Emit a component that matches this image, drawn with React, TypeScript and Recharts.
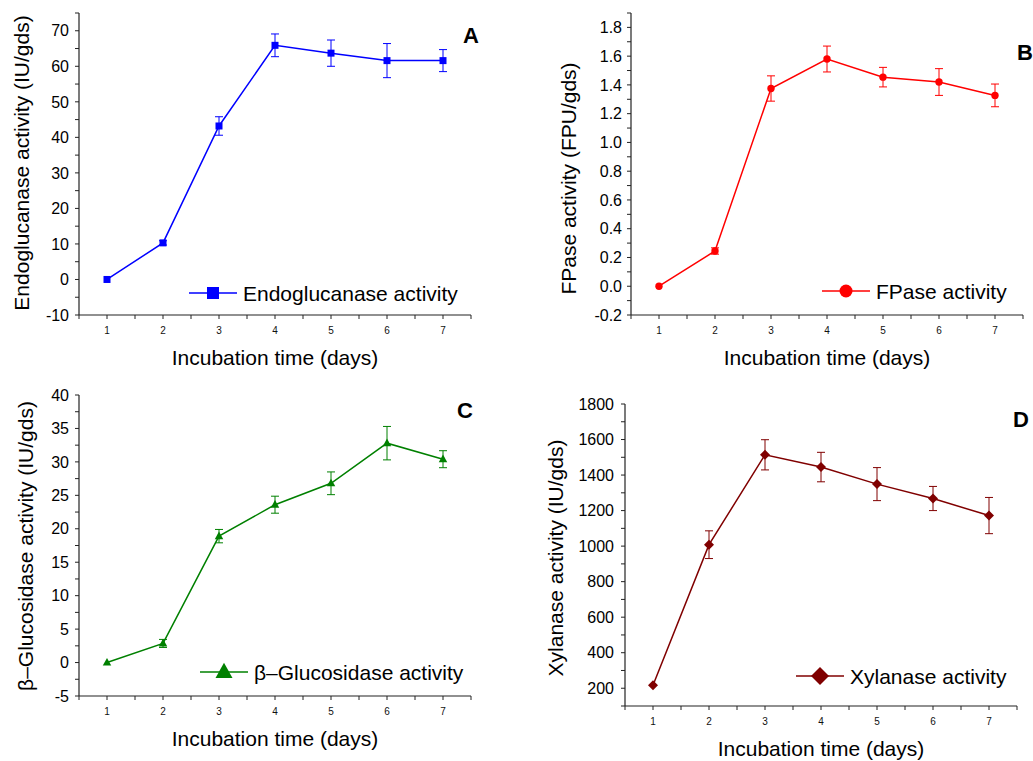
import React from 'react';
import { LineChart, Line, XAxis, YAxis, ErrorBar, Legend, Label } from 'recharts';

// ---------- data ----------
const days = [1, 2, 3, 4, 5, 6, 7];
const dayTicks = [0.5, 1, 1.5, 2, 2.5, 3, 3.5, 4, 4.5, 5, 5.5, 6, 6.5, 7, 7.5];
const dayLabels = [1, 2, 3, 4, 5, 6, 7];

const endoValues = [0, 10.3, 43.2, 65.9, 63.7, 61.6, 61.6];
const endoErrors = [0, 0.6, 2.6, 3.2, 3.7, 4.8, 3.1];
const endoTicks = [-10, -5, 0, 5, 10, 15, 20, 25, 30, 35, 40, 45, 50, 55, 60, 65, 70, 75];
const endoTickLabels = [-10, 0, 10, 20, 30, 40, 50, 60, 70];

const fpaseValues = [0.0, 0.245, 1.375, 1.58, 1.454, 1.42, 1.327];
const fpaseErrors = [0, 0.022, 0.088, 0.09, 0.068, 0.093, 0.079];
const fpaseTicks = [-0.2, -0.1, 0, 0.1, 0.2, 0.3, 0.4, 0.5, 0.6, 0.7, 0.8, 0.9, 1.0, 1.1, 1.2, 1.3, 1.4, 1.5, 1.6, 1.7, 1.8, 1.9];
const fpaseTickLabels = [-0.2, 0, 0.2, 0.4, 0.6, 0.8, 1.0, 1.2, 1.4, 1.6, 1.8];

const glucValues = [0.0, 2.86, 18.9, 23.6, 26.8, 32.8, 30.4];
const glucErrors = [0, 0.6, 1.0, 1.27, 1.7, 2.5, 1.27];
const glucTicks = [-5, -2.5, 0, 2.5, 5, 7.5, 10, 12.5, 15, 17.5, 20, 22.5, 25, 27.5, 30, 32.5, 35, 37.5, 40];
const glucTickLabels = [-5, 0, 5, 10, 15, 20, 25, 30, 35, 40];

const xylValues = [217, 1008, 1514, 1445, 1349, 1268, 1172];
const xylErrors = [0, 78, 85, 83, 93, 68, 102];
const xylTicks = [100, 200, 300, 400, 500, 600, 700, 800, 900, 1000, 1100, 1200, 1300, 1400, 1500, 1600, 1700, 1800];
const xylTickLabels = [200, 400, 600, 800, 1000, 1200, 1400, 1600, 1800];

const FONT = '"Liberation Sans", Arial, Helvetica, sans-serif';

type Shape = 'square' | 'circle' | 'triangle' | 'diamond';

function marker(shape: Shape, cx: number, cy: number, s: number, color: string) {
  if (shape === 'square') {
    return <rect x={cx - s / 2} y={cy - s / 2} width={s} height={s} fill={color} />;
  }
  if (shape === 'circle') {
    return <circle cx={cx} cy={cy} r={s / 2} fill={color} />;
  }
  if (shape === 'triangle') {
    const h = s * 0.9;
    return (
      <polygon
        points={`${cx},${cy - h * 0.6} ${cx - s / 2},${cy + h * 0.4} ${cx + s / 2},${cy + h * 0.4}`}
        fill={color}
      />
    );
  }
  return (
    <polygon
      points={`${cx},${cy - s / 2} ${cx + s / 2},${cy} ${cx},${cy + s / 2} ${cx - s / 2},${cy}`}
      fill={color}
    />
  );
}

interface Panel {
  key: string;
  letter: string;
  name: string;
  yTitle: string;
  values: number[];
  errors: number[];
  yTicks: number[];
  yLabels: number[];
  decimals: number;
  yDomain: [number, number];
  color: string;
  shape: Shape;
  dotSize: number;
  legendSize: number;
  left: number;
  top: number;
  w: number;
  h: number;
  margin: { top: number; right: number; bottom: number; left: number };
  yWidth: number;
  xHeight: number;
  yTickMargin: number;
  yTitlePos: { x: number; y: number };
  xTitleOffset: number;
  legendPos: { left: number; top: number };
  letterPos: { x: number; y: number };
}

const panels: Panel[] = [
  {
    key: 'A', letter: 'A', name: 'Endoglucanase activity', yTitle: 'Endoglucanase activity (IU/gds)',
    values: endoValues, errors: endoErrors, yTicks: endoTicks, yLabels: endoTickLabels, decimals: 0,
    yDomain: [-10, 75], color: '#0000FF', shape: 'square', dotSize: 7, legendSize: 12,
    left: 0, top: 0, w: 500, h: 380, margin: { top: 13, right: 29, bottom: 0, left: 0 },
    yWidth: 79, xHeight: 65, yTickMargin: 6, yTitlePos: { x: 28.5, y: 163 }, xTitleOffset: 15,
    legendPos: { left: 189, top: 281 }, letterPos: { x: 463, y: 42.5 },
  },
  {
    key: 'B', letter: 'B', name: 'FPase activity', yTitle: 'FPase activity (FPU/gds)',
    values: fpaseValues, errors: fpaseErrors, yTicks: fpaseTicks, yLabels: fpaseTickLabels, decimals: 1,
    yDomain: [-0.2, 1.9], color: '#FF0000', shape: 'circle', dotSize: 7.4, legendSize: 13,
    left: 520, top: 0, w: 513, h: 380, margin: { top: 13, right: 10, bottom: 0, left: 0 },
    yWidth: 111, xHeight: 65, yTickMargin: 5, yTitlePos: { x: 56, y: 178.5 }, xTitleOffset: 15.5,
    legendPos: { left: 302, top: 279 }, letterPos: { x: 497, y: 59.5 },
  },
  {
    key: 'C', letter: 'C', name: '\u03B2\u2013Glucosidase activity', yTitle: '\u03B2\u2013Glucosidase activity (IU/gds)',
    values: glucValues, errors: glucErrors, yTicks: glucTicks, yLabels: glucTickLabels, decimals: 0,
    yDomain: [-5, 40], color: '#008000', shape: 'triangle', dotSize: 8.5, legendSize: 17,
    left: 0, top: 380, w: 500, h: 381, margin: { top: 15, right: 29, bottom: 0, left: 0 },
    yWidth: 79, xHeight: 65, yTickMargin: 6, yTitlePos: { x: 33, y: 166 }, xTitleOffset: 15.3,
    legendPos: { left: 200, top: 280 }, letterPos: { x: 457, y: 38 },
  },
  {
    key: 'D', letter: 'D', name: 'Xylanase activity', yTitle: 'Xylanase activity (IU/gds)',
    values: xylValues, errors: xylErrors, yTicks: xylTicks, yLabels: xylTickLabels, decimals: 0,
    yDomain: [100, 1800], color: '#800000', shape: 'diamond', dotSize: 10, legendSize: 18,
    left: 520, top: 380, w: 513, h: 381, margin: { top: 24, right: 16, bottom: 0, left: 0 },
    yWidth: 105, xHeight: 55, yTickMargin: 7, yTitlePos: { x: 42.7, y: 178 }, xTitleOffset: 5,
    legendPos: { left: 276, top: 284 }, letterPos: { x: 493, y: 46.5 },
  },
];

const AXIS = '#222';

function PanelChart({ p }: { p: Panel }) {
  const data = days.map((d, i) => ({ day: d, value: p.values[i], err: p.errors[i] }));
  const fmtY = (v: number) => {
    const hit = p.yLabels.some((l) => Math.abs(l - v) < 1e-9);
    if (!hit) return '';
    return p.decimals > 0 ? (Math.abs(v) < 1e-9 ? 0 : v).toFixed(p.decimals) : String(Math.round(v));
  };
  const fmtX = (v: number) => (dayLabels.includes(v) ? String(v) : '');

  const renderDot = (props: any) => {
    const { cx, cy, index } = props;
    if (cx == null || cy == null) return <g key={`dot-${index}`} />;
    return <g key={`dot-${index}`}>{marker(p.shape, cx, cy, p.dotSize, p.color)}</g>;
  };

  const legendContent = (props: any) => {
    const item = props.payload && props.payload[0];
    const label = item ? item.value : p.name;
    return (
      <div style={{ display: 'flex', alignItems: 'center', height: 24, whiteSpace: 'nowrap', fontFamily: FONT }}>
        <svg width={48} height={24} style={{ display: 'block' }}>
          <line x1={0} y1={12} x2={48} y2={12} stroke={p.color} strokeWidth={1.5} />
          {marker(p.shape, 24, 12, p.legendSize, p.color)}
        </svg>
        <span style={{ marginLeft: 6, fontSize: 21, lineHeight: 1, color: '#000' }}>{label}</span>
      </div>
    );
  };

  const yTitleContent = () => (
    <text
      x={p.yTitlePos.x}
      y={p.yTitlePos.y}
      transform={`rotate(-90 ${p.yTitlePos.x} ${p.yTitlePos.y})`}
      textAnchor="middle"
      fontSize={21}
      fill="#000"
      fontFamily={FONT}
    >
      {p.yTitle}
    </text>
  );

  return (
    <div style={{ position: 'absolute', left: p.left, top: p.top, width: p.w, height: p.h }}>
      <LineChart width={p.w} height={p.h} data={data} margin={p.margin} style={{ fontFamily: FONT }}>
        <XAxis
          dataKey="day"
          type="number"
          domain={[0.5, 7.5]}
          ticks={dayTicks}
          interval={0}
          tickFormatter={fmtX}
          tickSize={4}
          tickMargin={8}
          height={p.xHeight}
          stroke={AXIS}
          axisLine={{ stroke: AXIS, strokeWidth: 1.2 }}
          tickLine={{ stroke: AXIS }}
          tick={{ fill: '#111', fontSize: 10, fontFamily: FONT }}
        >
          <Label
            value="Incubation time (days)"
            position="insideBottom"
            offset={p.xTitleOffset}
            style={{ fontSize: 21, fill: '#000', fontFamily: FONT }}
          />
        </XAxis>
        <YAxis
          type="number"
          domain={p.yDomain}
          ticks={p.yTicks}
          interval={0}
          tickFormatter={fmtY}
          tickSize={4}
          tickMargin={p.yTickMargin}
          width={p.yWidth}
          allowDataOverflow
          stroke={AXIS}
          axisLine={{ stroke: AXIS, strokeWidth: 1.2 }}
          tickLine={{ stroke: AXIS }}
          tick={{ fill: '#000', fontSize: 16, fontFamily: FONT }}
          label={yTitleContent}
        />
        <Legend
          layout="horizontal"
          verticalAlign="middle"
          align="center"
          wrapperStyle={{ left: p.legendPos.left, top: p.legendPos.top, width: 'auto', height: 24 }}
          content={legendContent}
        />
        <Line
          type="linear"
          dataKey="value"
          name={p.name}
          stroke={p.color}
          strokeWidth={1.5}
          dot={renderDot}
          activeDot={false}
          isAnimationActive={false}
        >
          <ErrorBar dataKey="err" width={4} stroke={p.color} strokeWidth={1} direction="y" isAnimationActive={false} />
        </Line>
      </LineChart>
      <svg
        width={p.w}
        height={p.h}
        style={{ position: 'absolute', left: 0, top: 0, pointerEvents: 'none', overflow: 'visible' }}
      >
        <text x={p.letterPos.x} y={p.letterPos.y} fontSize={22} fontWeight="bold" fill="#000" fontFamily={FONT}>
          {p.letter}
        </text>
      </svg>
    </div>
  );
}

export default function App() {
  return (
    <div
      style={{
        position: 'absolute',
        left: 0,
        top: 0,
        width: 1033,
        height: 761,
        overflow: 'hidden',
        background: '#fff',
        fontFamily: FONT,
      }}
    >
      {panels.map((p) => (
        <PanelChart key={p.key} p={p} />
      ))}
    </div>
  );
}
